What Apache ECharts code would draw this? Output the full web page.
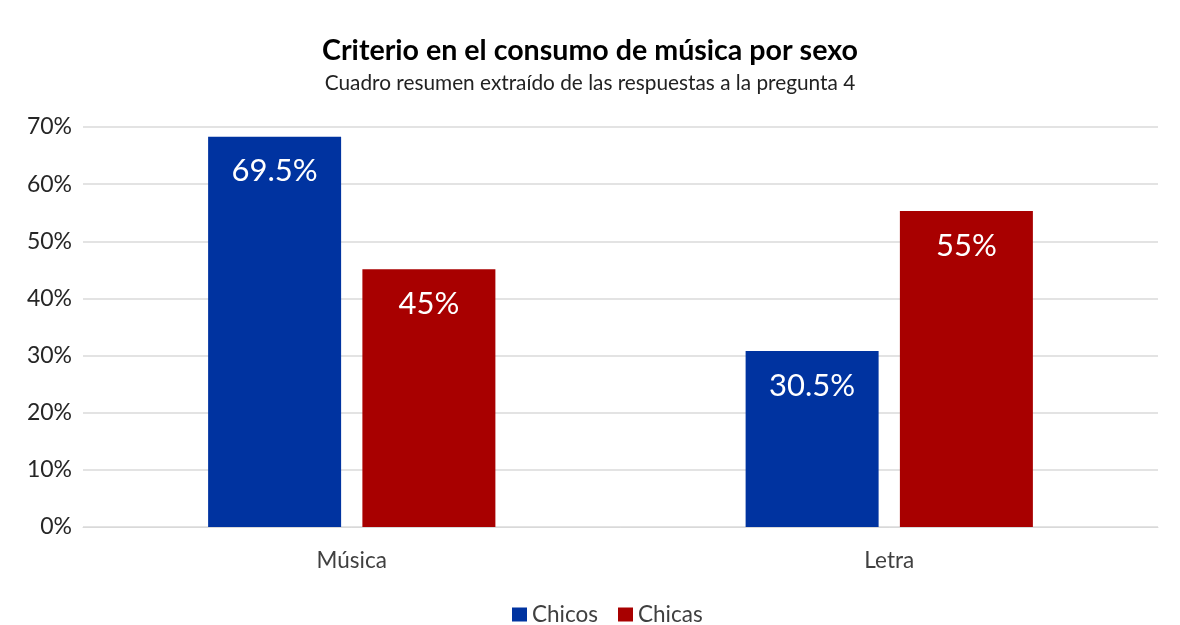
<!DOCTYPE html>
<html>
<head>
<meta charset="utf-8">
<script src="https://cdn.jsdelivr.net/npm/echarts@6/dist/echarts.min.js"></script>
<style>
html,body{margin:0;padding:0;background:#fff;}
#c{width:1180px;height:625px;}
</style>
</head>
<body>
<div id="c"></div>
<script>
const categories = ['Música', 'Letra'];
const seriesNames = ['Chicos', 'Chicas'];
const chicosValues = [68.3, 30.8];
const chicasValues = [45.1, 55.3];
const chicosLabels = ['69.5%', '30.5%'];
const chicasLabels = ['45%', '55%'];
const yTicks = [0, 10, 20, 30, 40, 50, 60, 70];

const FONT = 'Lato';
const chart = echarts.init(document.getElementById('c'), null, {renderer: 'canvas'});

function barSeries(name, values, labels, color) {
  return {
    name: name,
    type: 'bar',
    data: values,
    barWidth: 133,
    barGap: '16%',
    itemStyle: {color: color},
    label: {
      show: true,
      position: 'insideTop',
      distance: 19,
      color: '#ffffff',
      fontFamily: FONT,
      fontSize: 31,
      formatter: function (p) { return labels[p.dataIndex]; }
    }
  };
}

chart.setOption({
  animation: false,
  backgroundColor: '#ffffff',
  color: ['#0033A0', '#A80000'],
  title: [
    {
      text: 'Criterio en el consumo de música por sexo',
      left: 'center',
      top: 31,
      textStyle: {fontFamily: FONT, fontSize: 28.6, fontWeight: 'bold', color: '#000000'}
    },
    {
      text: 'Cuadro resumen extraído de las respuestas a la pregunta 4',
      left: 'center',
      top: 68,
      textStyle: {fontFamily: FONT, fontSize: 20.8, fontWeight: 'normal', color: '#222222'}
    }
  ],
  legend: {
    top: 603,
    left: 512,
    padding: 0,
    itemWidth: 15,
    itemHeight: 14,
    itemGap: 20,
    icon: 'rect',
    textStyle: {fontFamily: FONT, fontSize: 22.5, color: '#404040'},
    data: seriesNames
  },
  grid: {left: 83, right: 22, top: 127, bottom: 98, containLabel: false},
  xAxis: {
    type: 'category',
    data: categories,
    axisLine: {show: true, lineStyle: {color: '#d9d9d9'}},
    axisTick: {show: false},
    axisLabel: {fontFamily: FONT, fontSize: 22.5, color: '#404040', margin: 22}
  },
  yAxis: {
    type: 'value',
    min: 0,
    max: 70,
    interval: 10,
    axisLine: {show: false},
    axisTick: {show: false},
    splitLine: {lineStyle: {color: '#e3e3e3', width: 2}},
    axisLabel: {fontFamily: FONT, fontSize: 23, color: '#262626', margin: 11,
      formatter: function (v) { return yTicks.indexOf(v) >= 0 ? v + '%' : ''; }}
  },
  series: [
    barSeries(seriesNames[0], chicosValues, chicosLabels, '#0033A0'),
    barSeries(seriesNames[1], chicasValues, chicasLabels, '#A80000')
  ]
});
</script>
</body>
</html>
